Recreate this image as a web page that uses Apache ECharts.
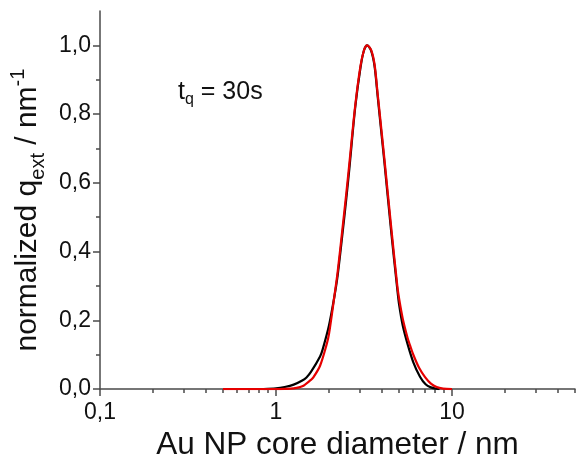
<!DOCTYPE html>
<html>
<head>
<meta charset="utf-8">
<script src="https://cdn.jsdelivr.net/npm/echarts@6/dist/echarts.min.js"></script>
<style>
  html, body { margin: 0; padding: 0; background: #fff; }
  #chart { width: 576px; height: 466px; }
</style>
</head>
<body>
<div id="chart"></div>
<script>
// black curve
const diamBlack = [0.85, 1.0, 1.12, 1.26, 1.41, 1.49, 1.58, 1.78, 1.84, 2.0, 2.14, 2.24, 2.39, 2.51, 2.61, 2.82, 3.02, 3.16, 3.30, 3.47, 3.63, 3.78, 3.98, 4.13, 4.50, 4.89, 5.01, 5.25, 5.60, 6.03, 6.58, 7.08, 7.59, 8.13, 8.5]
const qBlack = [0, 0.002, 0.006, 0.013, 0.025, 0.034, 0.05, 0.095, 0.115, 0.185, 0.265, 0.33, 0.455, 0.555, 0.64, 0.82, 0.935, 0.985, 1.0, 0.985, 0.94, 0.853, 0.74, 0.66, 0.465, 0.29, 0.245, 0.185, 0.13, 0.078, 0.036, 0.014, 0.005, 0.001, 0]
// red curve
const diamRed = [0.5, 0.8, 1.0, 1.12, 1.26, 1.41, 1.58, 1.63, 1.78, 1.94, 2.0, 2.14, 2.24, 2.39, 2.51, 2.61, 2.82, 3.02, 3.16, 3.29, 3.47, 3.63, 3.78, 3.98, 4.13, 4.50, 4.89, 5.01, 5.25, 5.60, 5.77, 6.03, 6.50, 7.03, 7.59, 8.18, 8.9, 10.0]
const qRed = [0, 0, 0, 0.0005, 0.002, 0.008, 0.027, 0.034, 0.068, 0.13, 0.16, 0.265, 0.34, 0.47, 0.57, 0.655, 0.825, 0.94, 0.985, 1.0, 0.987, 0.945, 0.86, 0.75, 0.67, 0.478, 0.3, 0.262, 0.205, 0.148, 0.128, 0.1, 0.062, 0.035, 0.016, 0.006, 0.0015, 0]

const xMajor = [0.1, 1, 10]
const xMinor = [0.2, 0.3, 0.4, 0.5, 0.6, 0.7, 0.8, 0.9, 2, 3, 4, 5, 6, 7, 8, 9, 20, 30, 40, 50]
const yMajor = [0, 0.2, 0.4, 0.6, 0.8, 1.0]
const yMinor = [0.1, 0.3, 0.5, 0.7, 0.9]

const axisColor = '#4a4a4a'
const font = '"Liberation Sans", Arial, sans-serif'

const chart = echarts.init(document.getElementById('chart'))

const xBase = { type: 'log', logBase: 10, min: 0.1, max: 50, position: 'bottom', splitLine: { show: false } }
const yBase = { type: 'value', min: 0, max: 1.1, position: 'left', splitLine: { show: false } }

chart.setOption({
  backgroundColor: '#fff',
  animation: false,
  grid: { left: 100, right: 1, top: 11, bottom: 74, containLabel: false },
  xAxis: [
    {
      ...xBase,
      name: 'Au NP core diameter / nm',
      nameLocation: 'middle',
      nameGap: 37,
      nameTextStyle: { color: '#111', fontSize: 31.5, fontFamily: font },
      axisLine: { show: true, lineStyle: { color: axisColor, width: 1.5 } },
      axisTick: { show: true, length: 7, customValues: xMajor, lineStyle: { color: axisColor, width: 1.5 } },
      axisLabel: {
        customValues: xMajor,
        margin: 12,
        color: '#111',
        fontSize: 23,
        fontFamily: font,
        formatter: (v) => String(v).replace('.', ','),
      },
    },
    {
      ...xBase,
      axisLine: { show: false },
      axisTick: { show: true, length: 4, customValues: xMinor, lineStyle: { color: axisColor, width: 1.5 } },
      axisLabel: { show: false },
    },
  ],
  yAxis: [
    {
      ...yBase,
      name: 'normalized q{sub|ext} / nm{sup|-1}',
      nameLocation: 'middle',
      nameGap: 50,
      nameTextStyle: {
        color: '#111',
        fontSize: 30,
        fontFamily: font,
        lineHeight: 40,
        padding: [0, 20, 0, 0],
        rich: {
          sub: { fontSize: 20, fontFamily: font, color: '#111', lineHeight: 20, verticalAlign: 'bottom' },
          sup: { fontSize: 20, fontFamily: font, color: '#111', lineHeight: 20, verticalAlign: 'top' },
        },
      },
      axisLine: { show: true, lineStyle: { color: axisColor, width: 1.5 } },
      axisTick: { show: true, length: 7, customValues: yMajor, lineStyle: { color: axisColor, width: 1.5 } },
      axisLabel: {
        customValues: yMajor,
        margin: 9,
        color: '#111',
        fontSize: 23,
        fontFamily: font,
        formatter: (v) => v.toFixed(1).replace('.', ','),
      },
    },
    {
      ...yBase,
      axisLine: { show: false },
      axisTick: { show: true, length: 4, customValues: yMinor, lineStyle: { color: axisColor, width: 1.5 } },
      axisLabel: { show: false },
    },
  ],
  graphic: [
    {
      type: 'text',
      x: 178,
      y: 80,
      style: {
        text: '{t|t}{q|q}{t| = 30s}',
        rich: {
          t: { fontSize: 25, fontFamily: font, fill: '#111', lineHeight: 28, verticalAlign: 'top' },
          q: { fontSize: 16, fontFamily: font, fill: '#111', lineHeight: 16, verticalAlign: 'bottom' },
        },
      },
    },
  ],
  series: [
    {
      type: 'line',
      name: 'black',
      data: diamBlack.map((d, i) => [d, qBlack[i]]),
      showSymbol: false,
      smooth: 0.3,
      lineStyle: { color: '#000', width: 2.2 },
      z: 2,
    },
    {
      type: 'line',
      name: 'red',
      data: diamRed.map((d, i) => [d, qRed[i]]),
      showSymbol: false,
      smooth: 0.3,
      lineStyle: { color: '#e60000', width: 2.2 },
      z: 3,
    },
  ],
})
</script>
</body>
</html>
